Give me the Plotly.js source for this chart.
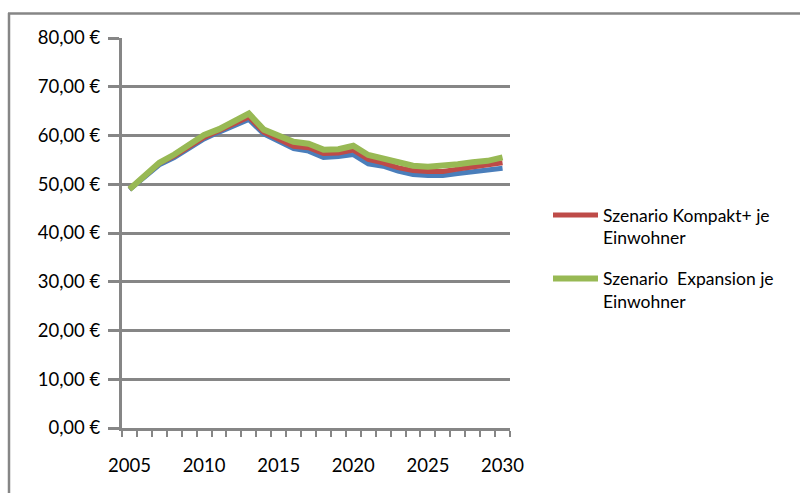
<!DOCTYPE html>
<html>
<head>
<meta charset="utf-8">
<script src="https://cdn.plot.ly/plotly-3.0.1.min.js"></script>
<style>html,body{margin:0;padding:0;background:#fff;}#chart{width:800px;height:493px;}</style>
</head>
<body>
<div id="chart"></div>
<script>
var years = [2005,2006,2007,2008,2009,2010,2011,2012,2013,2014,2015,2016,2017,2018,2019,2020,2021,2022,2023,2024,2025,2026,2027,2028,2029,2030];
var xTickVals = [2005,2010,2015,2020,2025,2030];
var yTickVals = [0,10,20,30,40,50,60,70,80];
var yTickLabels = ["0,00 €","10,00 €","20,00 €","30,00 €","40,00 €","50,00 €","60,00 €","70,00 €","80,00 €"];

var seriesBlue = [48.9,51.6,54.0,55.5,57.4,59.3,60.7,62.0,63.3,60.3,58.8,57.3,56.8,55.5,55.7,56.1,54.2,53.7,52.7,52.0,51.8,51.8,52.2,52.6,52.9,53.3];
var seriesKompakt = [49.0,51.8,54.3,55.8,57.8,59.6,61.0,62.4,63.8,60.7,59.2,57.8,57.5,56.3,56.4,57.0,55.1,54.4,53.4,52.8,52.6,52.6,53.1,53.5,53.9,54.4];
var seriesExpansion = [49.0,51.9,54.4,56.1,58.2,60.1,61.3,62.8,64.5,61.2,59.8,58.7,58.3,57.1,57.2,57.9,56.0,55.3,54.4,53.8,53.6,53.7,54.1,54.5,54.8,55.5];

var nameKompakt = "Szenario Kompakt+ je<br>Einwohner";
var nameExpansion = "Szenario  Expansion je<br>Einwohner";

var M = {l:122, r:290, t:38, b:65};
var W = 800, H = 493;
var pw = W - M.l - M.r, ph = H - M.t - M.b;
function px2x(p){ return (p - M.l) / pw; }
function py2y(p){ return (H - M.b - p) / ph; }

var grid = '#868686';
var traces = [
  {x: years, y: seriesBlue, type:'scatter', mode:'lines', line:{color:'#4a7ebb', width:5}, showlegend:false, hoverinfo:'skip'},
  {x: years, y: seriesKompakt, type:'scatter', mode:'lines', name: nameKompakt, legendgroup:'a', line:{color:'#be4b48', width:5}},
  {x: years, y: seriesExpansion, type:'scatter', mode:'lines', name: nameExpansion, legendgroup:'b', line:{color:'#98b954', width:6}}
];

var layout = {
  width: W, height: H,
  margin: M,
  paper_bgcolor:'#fff', plot_bgcolor:'#fff',
  font: {family:'Lato, "Open Sans", sans-serif', size:18.5, color:'#000'},
  showlegend: true,
  legend: {x: px2x(548), y: py2y(197), xanchor:'left', yanchor:'top', valign:'top', itemwidth:45,
           font:{size:17.5, color:'#000'}, tracegroupgap: 15, traceorder:'grouped', bgcolor:'rgba(0,0,0,0)'},
  xaxis: {
    range: [2004.5, 2030.5], tickmode:'array', tickvals: xTickVals, ticktext: xTickVals.map(String),
    ticks:'', showgrid:false, zeroline:false, showline:true, linecolor:grid, linewidth:3,
    ticklabelstandoff: 19,
    minor: {tickmode:'linear', tick0:2004.5, dtick:1, ticks:'outside', ticklen:6, tickwidth:2, tickcolor:grid, showgrid:false}
  },
  yaxis: {
    range: [0, 80], tickmode:'array', tickvals: yTickVals, ticktext: yTickLabels,
    ticks:'outside', ticklen:11, tickwidth:3, tickcolor:grid,
    showgrid:true, gridcolor:grid, gridwidth:3, zeroline:false,
    showline:true, linecolor:grid, linewidth:3, ticklabelstandoff: 4
  },
  shapes: [
    {type:'line', xref:'paper', yref:'paper', x0:px2x(9), x1:px2x(9), y0:py2y(13), y1:py2y(H+5), line:{color:grid, width:2.5}},
    {type:'line', xref:'paper', yref:'paper', x0:px2x(8), x1:px2x(W+5), y0:py2y(13.5), y1:py2y(13.5), line:{color:grid, width:2.5}}
  ]
};

Plotly.newPlot('chart', traces, layout, {displayModeBar:false, staticPlot:true});
</script>
</body>
</html>
